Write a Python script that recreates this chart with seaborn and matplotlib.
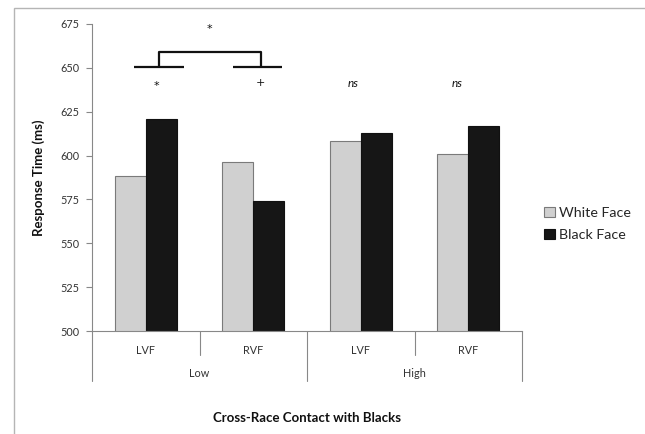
import matplotlib
matplotlib.use("Agg")
import matplotlib.pyplot as plt
import matplotlib.transforms as mtransforms
from matplotlib.patches import Rectangle
import pandas as pd
import seaborn as sns

# values
contact = ["Low", "Low", "High", "High"]
field = ["LVF", "RVF", "LVF", "RVF"]
white_face = [588.2, 596.4, 608.5, 600.7]
black_face = [620.8, 574.3, 612.9, 616.9]
faces = ["White Face", "Black Face"]
colors = ["#d0d0d0", "#161616"]

rows = []
for i in range(len(field)):
    cond = contact[i] + " " + field[i]
    rows.append({"cond": cond, "face": faces[0], "rt": white_face[i]})
    rows.append({"cond": cond, "face": faces[1], "rt": black_face[i]})
df = pd.DataFrame(rows)
order = [c + " " + f for c, f in zip(contact, field)]

sns.set_theme(style="white")
plt.rcParams["font.family"] = ["Lato", "DejaVu Sans"]

fig = plt.figure(figsize=(6.45, 4.34), dpi=100)
ax = fig.add_axes([92 / 645, 1 - 331 / 434, 430 / 645, 307 / 434])

sns.barplot(data=df, x="cond", y="rt", hue="face", order=order,
            hue_order=faces, palette=colors, width=0.58, gap=0,
            edgecolor="#7a7a7a", linewidth=0.8, ax=ax, legend=True)
for bar in ax.patches:
    if bar.get_facecolor()[0] < 0.3:
        bar.set_edgecolor("#111111")

ax.set_ylim(500, 675)
ax.set_xlim(-0.5, 3.5)
ax.set_yticks(range(500, 676, 25))
ax.set_xticks(range(4))
ax.set_xticklabels(field)
ax.tick_params(axis="y", which="both", left=True, length=4, width=0.8,
               color="#888888", pad=5, labelsize=7.8, labelcolor="#333333")
ax.tick_params(axis="x", length=0, pad=10, labelsize=7.8, labelcolor="#333333")
for s in ["top", "right"]:
    ax.spines[s].set_visible(False)
for s in ["left", "bottom"]:
    ax.spines[s].set_color("#888888")
    ax.spines[s].set_linewidth(0.8)

ax.set_ylabel("Response Time (ms)", fontsize=9.5, fontweight="bold", color="#111111")
ax.yaxis.set_label_coords(-0.11, 0.5)
ax.set_xlabel("Cross-Race Contact with Blacks", fontsize=9.5, fontweight="bold",
              color="#111111")
ax.xaxis.set_label_coords(0.5, -0.265)

# hierarchical category axis
trans = mtransforms.blended_transform_factory(ax.transData, ax.transAxes)
for x in [0.5, 2.5]:
    ax.plot([x, x], [0, -0.078], transform=trans, color="#888888", lw=0.8, clip_on=False)
for x in [-0.5, 1.5, 3.5]:
    ax.plot([x, x], [0, -0.163], transform=trans, color="#888888", lw=0.8, clip_on=False)
for x, lab in [(0.5, "Low"), (2.5, "High")]:
    ax.text(x, -0.137, lab, transform=trans, ha="center", va="center",
            fontsize=7.8, color="#333333")

# significance markers
bk = dict(color="#111111", lw=1.6, clip_on=False, solid_capstyle="butt")
ax.plot([-0.11, 0.355], [650.5, 650.5], **bk)
ax.plot([0.81, 1.27], [650.5, 650.5], **bk)
ax.plot([0.125, 0.125, 1.07, 1.07], [650.5, 658.8, 658.8, 650.5], **bk)
sym = dict(ha="center", va="center", fontsize=8, color="#111111", family="DejaVu Sans")
ax.text(0.59, 672, "*", **sym)
ax.text(0.10, 639.5, "*", **sym)
ax.text(1.065, 641.5, "+", **sym)
ax.text(1.93, 641, "ns", ha="center", va="center", fontsize=8.5, style="italic",
        color="#111111")
ax.text(2.9, 641, "ns", ha="center", va="center", fontsize=8.5, style="italic",
        color="#111111")

ax.legend(loc="center left", bbox_to_anchor=(531 / 645, 1 - 224 / 434),
          bbox_transform=fig.transFigure, frameon=False, fontsize=10.3,
          handlelength=0.75, handleheight=0.75, handletextpad=0.3,
          labelspacing=0.7, title=None)

# chart area border (partly cropped)
fig.add_artist(Rectangle((14 / 645, -1), 2, 1 + (1 - 8 / 434), transform=fig.transFigure,
                         fill=False, edgecolor="#b5b5b5", lw=1))

fig.savefig("out.png", dpi=100)
